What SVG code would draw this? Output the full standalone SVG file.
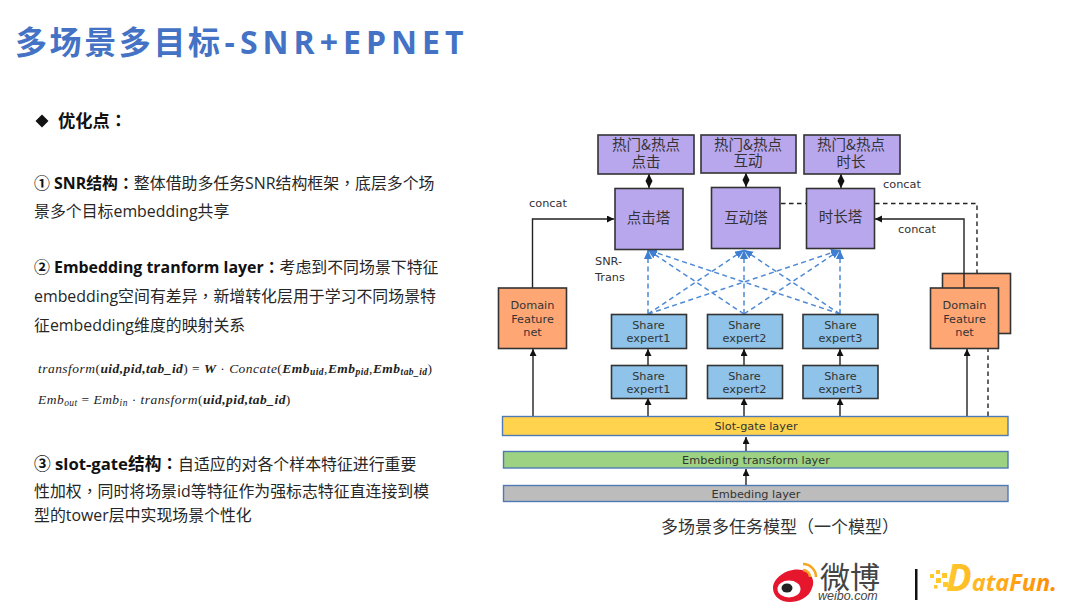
<svg xmlns="http://www.w3.org/2000/svg" width="1080" height="608" viewBox="0 0 1080 608">
<style>
.b{font-family:"Open Sans","Noto Sans CJK SC",sans-serif;font-size:15.9px;fill:#262626}
.bb{font-weight:700;fill:#111}
.pc{font-family:"Noto Sans CJK TC",sans-serif}
.lb{font-family:"DejaVu Sans","Noto Sans CJK SC",sans-serif;font-size:11.3px;fill:#333;text-anchor:middle}
.cn{font-family:"Noto Sans CJK SC",sans-serif;font-size:14.5px;fill:#333;text-anchor:middle}
.n{stroke:#333;stroke-width:1.6}
.p{fill:#b9a7ee}.e{fill:#8fc3e9}.o{fill:#ffa774}
.layer{stroke:#4f79b5;stroke-width:1.4}
.k{fill:none;stroke:#222;stroke-width:1.4}
.kd{fill:none;stroke:#222;stroke-width:1.4;stroke-dasharray:4.5 3.5}
.bd{fill:none;stroke:#4f8ad6;stroke-width:1.5;stroke-dasharray:5 3.5;marker-end:url(#ab)}
.m{font-family:"Liberation Serif",serif;font-size:13.5px;letter-spacing:.46px;fill:#222}
.i{font-style:italic}.mb{font-weight:700;font-style:italic}
.s{font-size:9.5px}
</style>
<defs>
<marker id="a" markerWidth="8" markerHeight="8" refX="7" refY="3.5" orient="auto" markerUnits="userSpaceOnUse"><path d="M0 0L7 3.5L0 7z" fill="#111"/></marker>
<marker id="as" markerWidth="8" markerHeight="8" refX="0" refY="3.5" orient="auto" markerUnits="userSpaceOnUse"><path d="M7 0L0 3.5L7 7z" fill="#111"/></marker>
<marker id="ab" markerWidth="10" markerHeight="9" refX="9" refY="4" orient="auto" markerUnits="userSpaceOnUse"><path d="M0 0L9 4L0 8z" fill="#3f7fd2"/></marker>
<linearGradient id="df" x1="0" x2="1" y1="0" y2="0"><stop offset="0" stop-color="#ffc92e"/><stop offset="1" stop-color="#ff8a00"/></linearGradient>
</defs>
<rect width="1080" height="608" fill="#fff"/>

<g id="title"><text x="15" y="54" font-family="'Open Sans','Noto Sans CJK SC',sans-serif" font-size="32" font-weight="700" letter-spacing="2.6" fill="#4472c4">多场景多目标<tspan dx="2" letter-spacing="5">-SNR+EPNET</tspan></text></g>

<g id="left-text">
<path d="M42 114.500L48.500 121L42 127.500L35.500 121z" fill="#111"/>
<text class="b bb" x="58" y="127" style="font-size:17.300px">优化点<tspan class="pc">：</tspan></text>
<text class="b" x="34" y="189"><tspan class="bb">① SNR结构<tspan class="pc">：</tspan></tspan>整体借助多任务SNR结构框架<tspan class="pc">，</tspan>底层多个场</text>
<text class="b" x="34" y="217">景多个目标embedding共享</text>
<text class="b" x="34" y="273"><tspan class="bb">② Embedding tranform layer<tspan class="pc">：</tspan></tspan>考虑到不同场景下特征</text>
<text class="b" x="34" y="302">embedding空间有差异<tspan class="pc">，</tspan>新增转化层用于学习不同场景特</text>
<text class="b" x="34" y="331">征embedding维度的映射关系</text>
<text class="m" x="38" y="373"><tspan class="i">transform</tspan>(<tspan class="mb">uid,pid,tab_id</tspan>) = <tspan class="mb">W</tspan> · <tspan class="i">Concate</tspan>(<tspan class="mb">Emb</tspan><tspan class="mb s" dy="2">uid</tspan><tspan dy="-2">,</tspan><tspan class="mb">Emb</tspan><tspan class="mb s" dy="2">pid</tspan><tspan dy="-2">,</tspan><tspan class="mb">Emb</tspan><tspan class="mb s" dy="2">tab_id</tspan><tspan dy="-2">)</tspan></text>
<text class="m" x="38" y="404"><tspan class="i">Emb</tspan><tspan class="i s" dy="2">out</tspan><tspan dy="-2"> = </tspan><tspan class="i">Emb</tspan><tspan class="i s" dy="2">in</tspan><tspan dy="-2"> · </tspan><tspan class="i">transform</tspan>(<tspan class="mb">uid,pid,tab_id</tspan>)</text>
<text class="b" x="34" y="470"><tspan class="bb" style="font-size:16.700px">③ slot-gate结构<tspan class="pc">：</tspan></tspan>自适应的对各个样本特征进行重要</text>
<text class="b" x="34" y="497">性加权<tspan class="pc">，</tspan>同时将场景id等特征作为强标志特征直连接到模</text>
<text class="b" x="34" y="521">型的tower层中实现场景个性化</text>
</g>

<g id="domain-right-back"><rect class="n o" x="942.500" y="273.500" width="68" height="60"/><text class="lb" x="976.500" y="296">Domain</text></g>

<g id="connectors">
<path class="bd" d="M648 314L648 250"/><path class="bd" d="M744 314L648 250"/><path class="bd" d="M840 314L648 250"/>
<path class="bd" d="M648 314L744 250"/><path class="bd" d="M744 314L744 250"/><path class="bd" d="M840 314L744 250"/>
<path class="bd" d="M648 314L840 250"/><path class="bd" d="M744 314L840 250"/><path class="bd" d="M840 314L840 250"/>
<path class="k" marker-start="url(#as)" marker-end="url(#a)" d="M649 174L649 188"/>
<path class="k" marker-start="url(#as)" marker-end="url(#a)" d="M746 173L746 187"/>
<path class="k" marker-start="url(#as)" marker-end="url(#a)" d="M841 174L841 188"/>
<path class="k" marker-end="url(#a)" d="M532.500 288L532.500 219L614 219"/>
<path class="k" marker-end="url(#a)" d="M964 288L964 219L875 219"/>
<path class="kd" d="M781 203.500L806 203.500"/>
<path class="kd" d="M875 203.500L977 203.500L977 273"/>
<path class="kd" d="M988 416L988 349"/>
<path class="k" marker-end="url(#a)" d="M533 416L533 349"/>
<path class="k" marker-end="url(#a)" d="M967 416L967 349"/>
<path class="k" marker-end="url(#a)" d="M648 365L648 349"/>
<path class="k" marker-end="url(#a)" d="M744 365L744 349"/>
<path class="k" marker-end="url(#a)" d="M840 365L840 349"/>
<path class="k" marker-end="url(#a)" d="M648 416L648 398"/>
<path class="k" marker-end="url(#a)" d="M744 416L744 398"/>
<path class="k" marker-end="url(#a)" d="M840 416L840 398"/>
<path class="k" marker-end="url(#a)" d="M746 451L746 437"/>
<path class="k" marker-end="url(#a)" d="M746 486L746 469"/>
</g>

<g id="out1"><rect class="n p" x="598" y="135" width="96" height="39"/><text class="cn" x="646" y="150">热门&amp;热点</text><text class="cn" x="646" y="167">点击</text></g>
<g id="out2"><rect class="n p" x="701" y="135" width="95" height="38"/><text class="cn" x="748" y="150">热门&amp;热点</text><text class="cn" x="748" y="166">互动</text></g>
<g id="out3"><rect class="n p" x="804" y="135" width="96" height="39"/><text class="cn" x="851" y="150">热门&amp;热点</text><text class="cn" x="851" y="167">时长</text></g>
<g id="tower1"><rect class="n p" x="615" y="188.500" width="68" height="61"/><text class="cn" x="648.500" y="223">点击塔</text></g>
<g id="tower2"><rect class="n p" x="711.500" y="187.500" width="68.500" height="61"/><text class="cn" x="746" y="223">互动塔</text></g>
<g id="tower3"><rect class="n p" x="806.500" y="188.500" width="68" height="60"/><text class="cn" x="840.500" y="222">时长塔</text></g>

<g id="domain-left"><rect class="n o" x="498.500" y="288" width="68" height="60.500"/><text class="lb" x="532.500" y="309">Domain</text><text class="lb" x="532.500" y="322.500">Feature</text><text class="lb" x="532.500" y="335.500">net</text></g>
<g id="domain-right"><rect class="n o" x="930.500" y="288" width="68" height="60.500"/><text class="lb" x="964.500" y="309">Domain</text><text class="lb" x="964.500" y="322.500">Feature</text><text class="lb" x="964.500" y="335.500">net</text></g>

<g id="expert-u1"><rect class="n e" x="611.500" y="314.500" width="75" height="34"/><text class="lb" x="648.500" y="329">Share</text><text class="lb" x="648.500" y="342">expert1</text></g>
<g id="expert-u2"><rect class="n e" x="707.500" y="314.500" width="75" height="34"/><text class="lb" x="744.500" y="329">Share</text><text class="lb" x="744.500" y="342">expert2</text></g>
<g id="expert-u3"><rect class="n e" x="803" y="314.500" width="75" height="34"/><text class="lb" x="840.500" y="329">Share</text><text class="lb" x="840.500" y="342">expert3</text></g>
<g id="expert-l1"><rect class="n e" x="611.500" y="365.500" width="75" height="33"/><text class="lb" x="648.500" y="380">Share</text><text class="lb" x="648.500" y="393">expert1</text></g>
<g id="expert-l2"><rect class="n e" x="707.500" y="365.500" width="75" height="33"/><text class="lb" x="744.500" y="380">Share</text><text class="lb" x="744.500" y="393">expert2</text></g>
<g id="expert-l3"><rect class="n e" x="803" y="365.500" width="75" height="33"/><text class="lb" x="840.500" y="380">Share</text><text class="lb" x="840.500" y="393">expert3</text></g>

<g id="slot-gate"><rect class="layer" fill="#ffd34d" x="502.500" y="416.500" width="505.500" height="19"/><text class="lb" x="756" y="430">Slot-gate layer</text></g>
<g id="transform-layer"><rect class="layer" fill="#9cd282" x="503.500" y="451.500" width="504.500" height="16.500"/><text class="lb" x="756" y="464">Embeding transform layer</text></g>
<g id="embedding-layer"><rect class="layer" fill="#bcbcbc" x="503.500" y="485.500" width="504.500" height="16"/><text class="lb" x="756" y="498">Embeding layer</text></g>

<g id="labels">
<text class="lb" x="548" y="206.500">concat</text>
<text class="lb" x="902" y="188">concat</text>
<text class="lb" x="917" y="233">concat</text>
<text class="lb" x="595" y="265" style="text-anchor:start">SNR-</text>
<text class="lb" x="595" y="281" style="text-anchor:start">Trans</text>
<text x="780" y="533" font-family="'Noto Sans CJK TC',sans-serif" font-size="17" fill="#333" text-anchor="middle">多场景多任务模型（一个模型）</text>
</g>

<g id="logos">
<path d="M773 588C773 577 789 567 802 570C813 573 815 582 812 588C809 598 798 602 790 602C780 602 773 596 773 588z" fill="#e6162d"/>
<ellipse cx="789" cy="589" rx="11.500" ry="8.500" fill="#fff"/><ellipse cx="787" cy="588" rx="5.500" ry="4.500" fill="#222"/>
<path d="M803 564A13 13 0 0 1 816 577M803 570A7 7 0 0 1 810 577" fill="none" stroke="#f5a623" stroke-width="2.500"/>
<text x="820" y="588" font-family="'Noto Sans CJK SC',sans-serif" font-size="30" fill="#444">微博</text>
<text x="818" y="600" font-family="'Liberation Sans',sans-serif" font-size="12.500" font-style="italic" fill="#444">weibo.com</text>
<rect x="915" y="569" width="2.500" height="31" fill="#111"/>
<g fill="#ffc82c"><rect x="930" y="574" width="4" height="4"/><rect x="936" y="570" width="4" height="4"/><rect x="936" y="578" width="5" height="5"/><rect x="942" y="573" width="5" height="5"/><rect x="943" y="582" width="5" height="5"/><rect x="934" y="585" width="3.500" height="3.500"/></g>
<text x="946" y="591" font-family="'Open Sans',sans-serif" font-weight="700" font-style="italic" fill="url(#df)"><tspan font-size="38">D</tspan><tspan font-size="23.500">ataFun.</tspan></text>
</g>
</svg>
